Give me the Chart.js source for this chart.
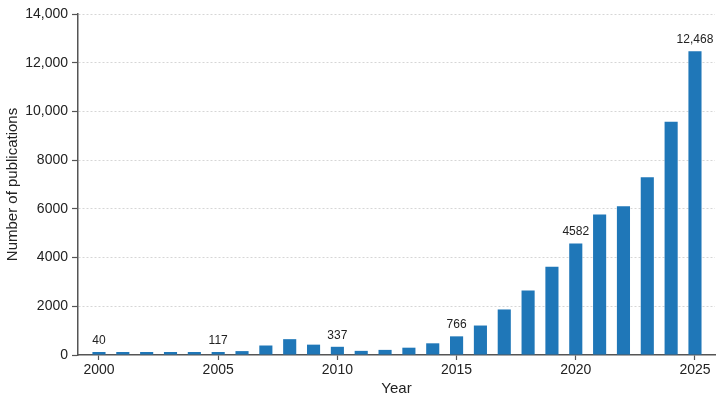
<!DOCTYPE html>
<html>
<head>
<meta charset="utf-8">
<script src="https://cdn.jsdelivr.net/npm/chart.js@4.4.1/dist/chart.umd.min.js"></script>
<style>
  html, body { margin: 0; padding: 0; background: #fff; }
  #wrap { width: 724px; height: 402px; }
</style>
</head>
<body>
<div id="wrap"><canvas id="pubChart"></canvas></div>
<script>
const years = [2000, 2001, 2002, 2003, 2004, 2005, 2006, 2007, 2008, 2009, 2010, 2011, 2012,
               2013, 2014, 2015, 2016, 2017, 2018, 2019, 2020, 2021, 2022, 2023, 2024, 2025];
const publications = [40, 45, 42, 75, 115, 117, 160, 390, 650, 425, 337, 170, 210,
                      300, 480, 766, 1210, 1870, 2650, 3620, 4582, 5770, 6110, 7300, 9580, 12468];
const labelledYears = [2000, 2005, 2010, 2015, 2020, 2025];
const xTicks = [2000, 2005, 2010, 2015, 2020, 2025];
const yTicks = [0, 2000, 4000, 6000, 8000, 10000, 12000, 14000];

const FONT = "'Liberation Sans', Arial, sans-serif";
const TEXT = '#222';
const AXIS = '#555';

function fmt(v) {
    return v >= 10000 ? v.toLocaleString('en-US') : String(v);
}

// value labels above selected bars
const barLabels = {
    id: 'barLabels',
    afterDatasetsDraw(chart) {
        const ctx = chart.ctx;
        const meta = chart.getDatasetMeta(0);
        ctx.save();
        ctx.font = '12px ' + FONT;
        ctx.fillStyle = TEXT;
        ctx.textAlign = 'center';
        ctx.textBaseline = 'alphabetic';
        years.forEach((yr, i) => {
            if (!labelledYears.includes(yr)) return;
            const bar = meta.data[i];
            ctx.fillText(fmt(publications[i]), bar.x, bar.y - 8);
        });
        ctx.restore();
    }
};

const ctx = document.getElementById('pubChart').getContext('2d');
new Chart(ctx, {
    type: 'bar',
    data: {
        datasets: [{
            data: years.map((y, i) => ({ x: y, y: publications[i] })),
            backgroundColor: '#1f77b8',
            borderWidth: 0,
            minBarLength: 3,
            barPercentage: 0.55,
            categoryPercentage: 1
        }]
    },
    options: {
        responsive: true,
        maintainAspectRatio: false,
        animation: false,
        layout: { padding: { top: 14, right: 9, left: 0, bottom: 0 } },
        plugins: {
            legend: { display: false },
            tooltip: { enabled: false }
        },
        scales: {
            x: {
                type: 'linear',
                offset: false,
                min: 1999.12,
                max: 2025.84,
                afterBuildTicks: (scale) => { scale.ticks = xTicks.map(v => ({ value: v })); },
                afterFit: (scale) => { scale.height = 47; },
                grid: { offset: false, drawOnChartArea: false, drawTicks: true, tickLength: 5, tickColor: AXIS, tickWidth: 1.2 },
                border: { display: true, color: AXIS, width: 1.5 },
                ticks: {
                    padding: 2,
                    color: TEXT,
                    font: { family: FONT, size: 14 },
                    callback: (v) => String(v),
                    maxRotation: 0
                },
                title: {
                    display: true,
                    text: 'Year',
                    color: TEXT,
                    font: { family: FONT, size: 15 },
                    padding: { top: 0, bottom: 4 }
                }
            },
            y: {
                min: 0,
                max: 14000,
                afterBuildTicks: (scale) => { scale.ticks = yTicks.map(v => ({ value: v })); },
                afterFit: (scale) => { scale.width = 78; },
                grid: {
                    color: (c) => (c.tick && c.tick.value === 0) ? 'rgba(0,0,0,0)' : '#d6d6d6',
                    lineWidth: 1,
                    drawTicks: true,
                    tickLength: 6,
                    tickColor: AXIS,
                    tickWidth: 1.2
                },
                border: { display: true, color: AXIS, width: 1.5, dash: [2, 2] },
                ticks: {
                    padding: 4,
                    color: TEXT,
                    font: { family: FONT, size: 14 },
                    callback: (v) => fmt(v)
                },
                title: {
                    display: true,
                    text: 'Number of publications',
                    color: TEXT,
                    font: { family: FONT, size: 15 },
                    padding: { top: 4, bottom: 0 }
                }
            }
        }
    },
    plugins: [barLabels]
});
</script>
</body>
</html>
